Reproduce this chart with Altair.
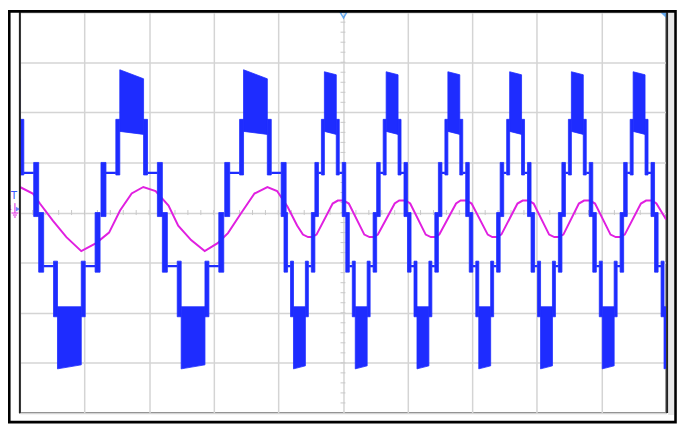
import altair as alt
import pandas as pd

# ---- axes: time in ms (10 ms/div), voltage in V (100 V/div) ----
x_grid = [0, 10, 20, 30, 40, 50, 60, 70, 80, 90, 100]
y_grid = [-400, -300, -200, -100, 0, 100, 200, 300, 400]
x_minor = [2 * i for i in range(1, 50)]
y_minor = [-380 + 20 * i for i in range(0, 39)]

BLUE = "#1e2cff"
MAGENTA = "#e020e0"

# ---- blue trace: each half-cycle of the multilevel PWM voltage ----
blue_center = [-1.84, 7.66, 17.30, 26.80, 36.45, 43.26, 48.04, 52.82, 57.60,
               62.37, 67.15, 71.93, 76.71, 81.49, 86.26, 91.04, 95.82, 100.60]
blue_sign = [1, -1, 1, -1, 1, -1, 1, -1, 1, -1, 1, -1, 1, -1, 1, -1, 1, -1]
main_hw = [1.84, 1.84, 1.84, 1.84, 1.84, 0.92, 0.92, 0.92, 0.92,
           0.92, 0.92, 0.92, 0.92, 0.92, 0.92, 0.92, 0.92, 0.92]
step_hw = [2.45, 2.45, 2.45, 2.45, 2.45, 1.38, 1.38, 1.38, 1.38,
           1.38, 1.38, 1.38, 1.38, 1.38, 1.38, 1.38, 1.38, 1.38]
line_hw = [3.98, 3.98, 3.98, 3.98, 3.98, 1.84, 1.84, 1.84, 1.84,
           1.84, 1.84, 1.84, 1.84, 1.84, 1.84, 1.84, 1.84, 1.84]
outer_hw = [4.75, 4.75, 4.75, 4.75, 4.75, 2.39, 2.39, 2.39, 2.39,
            2.39, 2.39, 2.39, 2.39, 2.39, 2.39, 2.39, 2.39, 2.39]
peak_start = [285, -312, 285, -312, 285, -312, 281, -312, 281,
              -312, 281, -312, 281, -312, 281, -312, 281, -312]
peak_end = [267, -304, 267, -304, 267, -306, 275, -306, 275,
            -306, 275, -306, 275, -306, 275, -306, 275, -306]

# levels for positive / negative halves
# [inner start, inner end, step low, step high, level-1 line, zero-band near, zero-band far]
pos_levels = [162, 156, 75, 186, 79, -8, 100]
neg_levels = [-188, -188, -97, -208, -107, 0, -119]

# ---- magenta trace: current (time ms, V-equivalent) ----
mag_t = [0.0, 2.0, 3.1, 5.1, 7.2, 9.5, 11.8, 13.8, 15.5, 17.3, 19.1, 21.0, 23.0,
         24.5, 26.5, 28.6, 30.6, 32.2, 34.2, 36.3, 38.3, 39.8, 41.4, 42.9,
         43.8, 44.6, 45.2, 45.9, 48.4, 49.2, 50.1, 50.9,
         53.3, 54.1, 54.7, 55.4, 58.0, 58.7, 59.7, 60.4,
         62.8, 63.6, 64.2, 64.9, 67.5, 68.2, 69.1, 69.9,
         72.4, 73.1, 73.7, 74.5, 77.0, 77.8, 78.7, 79.5,
         81.9, 82.7, 83.3, 84.1, 86.5, 87.3, 88.2, 89.0,
         91.4, 92.2, 92.8, 93.6, 96.1, 96.9, 97.8, 98.5, 100.0]
mag_v = [51, 38, 18, -16, -49, -77, -61, -40, 4, 38, 51, 43, 14,
         -26, -55, -77, -61, -41, -2, 38, 51, 43, 12, -26,
         -44, -49, -49, -44, 18, 24, 24, 18,
         -44, -49, -49, -44, 18, 24, 24, 18,
         -44, -49, -49, -44, 18, 24, 24, 18,
         -44, -49, -49, -44, 18, 24, 24, 18,
         -44, -49, -49, -44, 18, 24, 24, 18,
         -44, -49, -49, -44, 18, 24, 24, 18, -14]

# ---- build tables ----
band_rows = []
line_rows = []
bid = 0
for c, s, m, st, ln, ou, ps, pe in zip(blue_center, blue_sign, main_hw, step_hw,
                                        line_hw, outer_hw, peak_start, peak_end):
    L = pos_levels if s > 0 else neg_levels
    inner_s, inner_e, step_lo, step_hi, lvl, zb_near, zb_far = L
    bands = [
        (c - ou, c - ln, zb_far, zb_near, zb_far, zb_near),
        (c - st, c - m, step_hi, step_lo, step_hi, step_lo),
        (c - m, c + m, ps, inner_s, pe, inner_e),
        (c + m, c + st, step_hi, step_lo, step_hi, step_lo),
        (c + ln, c + ou, zb_far, zb_near, zb_far, zb_near),
    ]
    for x0, x1, a0, b0, a1, b1 in bands:
        band_rows.append({"band": bid, "t": x0, "v": a0, "v2": b0})
        band_rows.append({"band": bid, "t": x1, "v": a1, "v2": b1})
        bid += 1
    line_rows.append({"t": c - ln, "t2": c - st, "v": lvl})
    line_rows.append({"t": c + st, "t2": c + ln, "v": lvl})

bands_df = pd.DataFrame(band_rows)
lines_df = pd.DataFrame(line_rows)
mag_df = pd.DataFrame({"t": mag_t, "v": mag_v})
xminor_df = pd.DataFrame({"t": x_minor, "lo": [-5] * len(x_minor), "hi": [5] * len(x_minor)})
yminor_df = pd.DataFrame({"v": y_minor, "lo": [49.62] * len(y_minor), "hi": [50.38] * len(y_minor)})
one = pd.DataFrame({"k": [0]})

xs = alt.Scale(domain=[0, 100], nice=False, zero=False)
ys = alt.Scale(domain=[-400, 400], nice=False, zero=False)
xax = alt.Axis(values=x_grid, grid=True, labels=False, ticks=False, domain=False,
               title=None, gridColor="#d4d4d4", gridWidth=1.5)
yax = alt.Axis(values=y_grid, grid=True, labels=False, ticks=False, domain=False,
               title=None, gridColor="#d4d4d4", gridWidth=1.5)

base_grid = alt.Chart(mag_df).mark_line(opacity=0).encode(
    x=alt.X("t:Q", scale=xs, axis=xax),
    y=alt.Y("v:Q", scale=ys, axis=yax),
)

xminor = alt.Chart(xminor_df).mark_rule(color="#c8c8c8", strokeWidth=1).encode(
    x=alt.X("t:Q", scale=xs), y=alt.Y("lo:Q", scale=ys), y2="hi:Q")
yminor = alt.Chart(yminor_df).mark_rule(color="#c8c8c8", strokeWidth=1).encode(
    y=alt.Y("v:Q", scale=ys), x=alt.X("lo:Q", scale=xs), x2="hi:Q")

mag = alt.Chart(mag_df).mark_line(color=MAGENTA, strokeWidth=2, clip=True).encode(
    x=alt.X("t:Q", scale=xs), y=alt.Y("v:Q", scale=ys))

blue_bands = alt.Chart(bands_df).mark_area(
    color=BLUE, stroke=BLUE, strokeWidth=0.8, opacity=1, clip=True
).encode(
    x=alt.X("t:Q", scale=xs), y=alt.Y("v:Q", scale=ys), y2="v2:Q", detail="band:N")

blue_lines = alt.Chart(lines_df).mark_rule(color=BLUE, strokeWidth=2.3, clip=True).encode(
    x=alt.X("t:Q", scale=xs), x2="t2:Q", y=alt.Y("v:Q", scale=ys))

# decorations (scope furniture)
right_strip = alt.Chart(one).mark_rect(color="#e8e8e8").encode(
    x=alt.value(655), x2=alt.value(661), y=alt.value(0), y2=alt.value(407))
left_edge = alt.Chart(one).mark_rule(color="#222222", strokeWidth=2).encode(
    x=alt.value(0), y=alt.value(0), y2=alt.value(405))
right_edge = alt.Chart(one).mark_rule(color="#222222", strokeWidth=2).encode(
    x=alt.value(654), y=alt.value(0), y2=alt.value(405))
frame = alt.Chart(one).mark_rect(fillOpacity=0, stroke="black", strokeWidth=2.6).encode(
    x=alt.value(-10.7), x2=alt.value(662.5), y=alt.value(-0.8), y2=alt.value(414.3))
trig = alt.Chart(one).mark_point(shape="triangle-down", filled=False, color="#2a8cf0",
                                 size=45, strokeWidth=1.5, clip=False).encode(
    x=alt.value(327), y=alt.value(3))
corner = alt.Chart(one).mark_point(shape="M-1,-1L1,-1L1,1Z", filled=True, color="#2a8cf0",
                                   size=30, clip=False).encode(
    x=alt.value(650), y=alt.value(3))
t_mark = alt.Chart(one).mark_text(text="T", color="#3355ff", fontSize=10,
                                  font="DejaVu Sans", clip=False).encode(
    x=alt.value(-6), y=alt.value(186))
one_mark = alt.Chart(one).mark_text(text="1", color=MAGENTA, fontSize=7,
                                    font="DejaVu Sans", clip=False).encode(
    x=alt.value(-10), y=alt.value(198))
# ground symbol drawn with rules
gnd_stem = alt.Chart(one).mark_rule(color=MAGENTA, strokeWidth=1).encode(
    x=alt.value(-5), y=alt.value(193), y2=alt.value(203))
gnd_bar1 = alt.Chart(one).mark_rule(color=MAGENTA, strokeWidth=1).encode(
    x=alt.value(-8.5), x2=alt.value(-1.5), y=alt.value(203))
gnd_bar2 = alt.Chart(one).mark_rule(color=MAGENTA, strokeWidth=1).encode(
    x=alt.value(-7), x2=alt.value(-3), y=alt.value(205))
gnd_bar3 = alt.Chart(one).mark_rule(color=MAGENTA, strokeWidth=1).encode(
    x=alt.value(-6), x2=alt.value(-4), y=alt.value(207))
arrow = alt.Chart(one).mark_point(shape="triangle-right", filled=True, color="#3355ff",
                                  size=22, clip=False).encode(
    x=alt.value(-2), y=alt.value(199))

chart = alt.layer(
    base_grid, xminor, yminor, mag, blue_bands, blue_lines,
    right_strip, left_edge, right_edge, trig, corner, t_mark, one_mark,
    gnd_stem, gnd_bar1, gnd_bar2, gnd_bar3, arrow, frame
).properties(
    width=653, height=405,
    autosize=alt.AutoSizeParams(type="none"),
    padding={"left": 12, "top": 2, "right": 11, "bottom": 11},
    background="white",
).configure_view(stroke="#555555", strokeWidth=1.5)

chart.save("out.html", embed_options={"renderer": "svg", "actions": False})
